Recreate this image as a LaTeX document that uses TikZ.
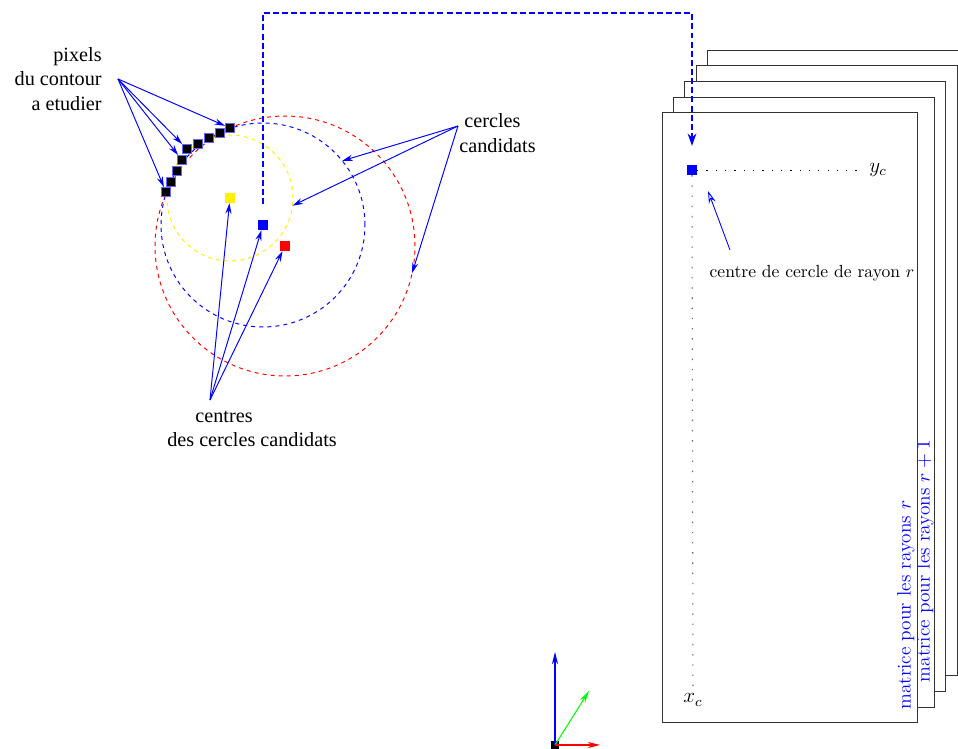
\documentclass[tikz,border=0pt]{standalone}
\usepackage{fontspec}
\newfontfamily\timesfont{Liberation Serif}
\usetikzlibrary{arrows.meta}
\begin{document}
\begin{tikzpicture}[x=0.02cm, y=-0.02cm,
		fleche/.style={blue, line width=0.55pt, -{Stealth[length=6pt, width=3.5pt]}},
		pixel/.style={draw=blue!60, fill=black, line width=0.6pt, minimum size=5pt, inner sep=0pt},
		centre/.style={minimum size=5.5pt, inner sep=0pt},
		cercle/.style={circle, dash pattern=on 2.3pt off 2.3pt, line width=0.55pt, inner sep=0pt, outer sep=0pt},
		matrice/.style={draw=black!80, fill=white, line width=0.5pt},
		etiq/.style={font=\timesfont\fontsize{11.5}{14}\selectfont},
		mattexte/.style={blue, rotate=90, font=\fontsize{11}{13}\selectfont, inner sep=0pt}]
	\clip (0,0) rectangle (958,749);
	\foreach \k in {3,2,1,0}
		\draw[matrice] ({673+11.6*\k},{97-15.6*\k}) rectangle +(261,610);
	\node[mattexte] (matr1) at (925,561) {matrice pour les rayons $r+1$};
	\draw[matrice] (662,112) rectangle (917,722);
	\node[mattexte] (matr) at (906,605) {matrice pour les rayons $r$};
	\node[centre, fill=blue] (cij) at (692,170) {};
	\node[font=\large] (yc) at (878,170) {$y_c$};
	\node[font=\large] (xc) at (693,700) {$x_c$};
	\draw[dash pattern=on 0.7pt off 4.6pt] (cij) -- (yc);
	\draw[black!60, line width=0.6pt, dash pattern=on 0.8pt off 5pt] (cij) -- (xc);
	\node (lbrayon) at (812,273) {centre de cercle de rayon $r$};
	\coordinate (cfl) at (730,250);
	\coordinate (cpointe) at (708,191);
	\draw[blue, line width=0.5pt, -{Stealth[open, length=7pt, width=4pt]}] (cfl) -- (cpointe);
	\node[centre, fill=yellow] (cjaune) at (230,198) {};
	\node[centre, fill=blue] (cbleu) at (263,225) {};
	\node[centre, fill=red] (crouge) at (285,246) {};
	\node[cercle, draw=yellow, minimum size=2.52cm] (cerjaune) at (cjaune) {};
	\node[cercle, draw=blue, minimum size=4.08cm] (cerbleu) at (cbleu) {};
	\node[cercle, draw=red, minimum size=5.2cm] (cerrouge) at (crouge) {};
	\foreach \x/\y [count=\n] in {166/192, 171/182, 177/171, 182/160, 187/149, 198/144, 209/138, 220/133, 230/128}
		\node[pixel] (p\n) at (\x,\y) {};
	\coordinate (depart) at ([yshift=9pt]cbleu.north);
	\coordinate (haut) at (692,13);
	\draw[blue, line width=0.65pt, dash pattern=on 3.4pt off 1.8pt, shorten >=0.38cm, -{Stealth[length=7pt, width=5pt]}]
		(depart) -- (depart |- haut) -- (haut) -- (cij.north);
	\node[etiq, align=right, anchor=east, inner sep=0pt] (lbpix) at (102,79) {pixels\\du contour\\a etudier};
	\coordinate (opix) at (118,79);
	\foreach \n in {1,4,5,9}
		\draw[fleche] (opix) -- (p\n);
	\node[etiq, align=left, anchor=west, inner sep=0pt] (lbcer) at (459,133) {\ cercles\\candidats};
	\coordinate (ocer) at (458,126);
	\draw[fleche] (ocer) -- (cerbleu.39);
	\draw[fleche] (ocer) -- (cerjaune.-7);
	\draw[fleche] (ocer) -- (cerrouge.-12);
	\node[etiq] (lbcent) at (224,417) {centres};
	\node[etiq] (lbcent2) at (252,440) {des cercles candidats};
	\coordinate (ocen) at (210,400);
	\draw[fleche] (ocen) -- (cjaune);
	\draw[fleche] (ocen) -- (cbleu);
	\draw[fleche] (ocen) -- (crouge);
	\node[fill=black, minimum size=4.5pt, inner sep=0pt] (orig) at (555,745) {};
	\coordinate (axz) at (555,652);
	\coordinate (axy) at (589,691);
	\coordinate (axx) at (600,745);
	\draw[blue, line width=0.6pt, -{Stealth[length=7pt, width=3.5pt]}] (orig.center) -- (axz);
	\draw[green, line width=0.6pt, -{Stealth[length=7pt, width=3.5pt]}] (orig.center) -- (axy);
	\draw[red, line width=0.6pt, -{Stealth[length=7pt, width=3.5pt]}] (orig.center) -- (axx);
\end{tikzpicture}
\end{document}
